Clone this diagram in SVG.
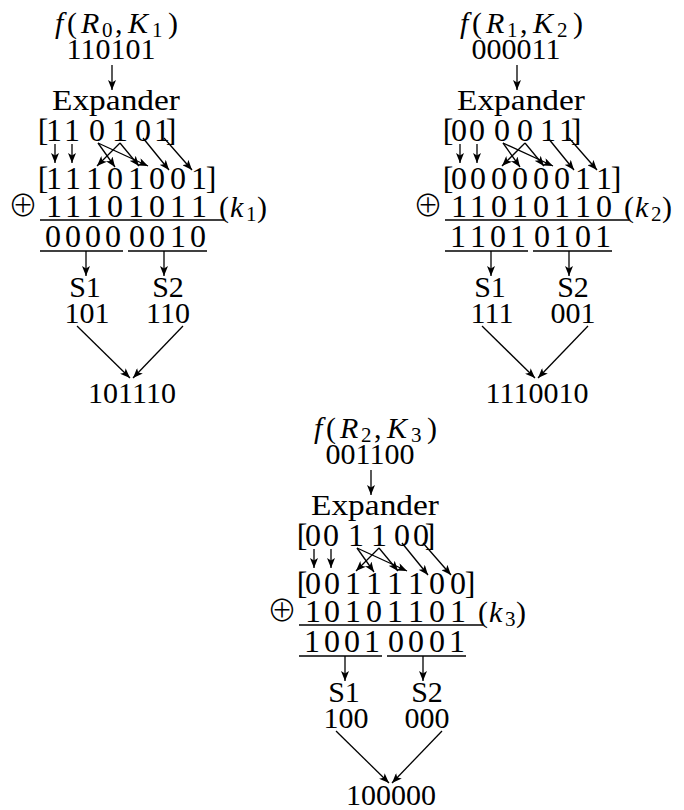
<svg xmlns="http://www.w3.org/2000/svg" width="684" height="810" viewBox="0 0 684 810">
<style>
.t{font-family:"Liberation Serif","Times New Roman",serif;font-size:30px;fill:#000}
.r{font-size:32px}
.m{text-anchor:middle}
.i{font-style:italic}
.s{font-size:21px}
.op{font-family:"Noto Sans CJK JP","DejaVu Sans",sans-serif;font-weight:300;font-size:30px;fill:#000;text-anchor:middle}
.c{stroke:#000;stroke-width:1.3;fill:none}
.a{marker-end:url(#ah)}
</style>
<defs>
<marker id="ah" viewBox="0 0 10 8" refX="10" refY="4" markerWidth="10" markerHeight="8" orient="auto" markerUnits="userSpaceOnUse">
<path d="M0,0 L10,4 L0,8 L2.5,4 z" fill="#000"/>
</marker>
</defs>

<!-- Block 1 -->
<g id="block1">
<g id="b1-f"><text class="t" y="33" font-size="31"><tspan x="55" class="i">f</tspan><tspan x="67">(</tspan><tspan x="81" class="i">R</tspan><tspan x="102" y="37" class="s">0</tspan><tspan x="115" y="33">,</tspan><tspan x="128" class="i">K</tspan><tspan x="152" y="37" class="s">1</tspan><tspan x="168" y="33">)</tspan></text></g>
<g id="b1-in"><text class="t m" x="111" y="59">110101</text></g>
<g id="b1-exp"><text class="t" x="52" y="110" textLength="128" lengthAdjust="spacingAndGlyphs">Expander</text></g>
<g id="b1-row1"><text class="t r m" x="43 54 72 97 120 143 162 171" y="141">[110101]</text></g>
<g id="b1-row2"><text class="t r m" x="43 54 73 94 115 136 157 178 199 211" y="189">[11101001]</text></g>
<g id="b1-xor"><text class="op" x="23" y="216">⊕</text></g>
<g id="b1-key"><text class="t r m" x="54 73 94 115 136 157 178 199" y="217">11101011</text></g>
<g id="b1-k"><text class="t" y="217"><tspan x="219">(</tspan><tspan x="230" class="i">k</tspan><tspan x="246" y="221" class="s">1</tspan><tspan x="257" y="217">)</tspan></text></g>
<g id="b1-res"><text class="t r m" x="53 73 93 113 137 157 178 198" y="247">00000010</text></g>
<g id="b1-s1"><text class="t m" x="85" y="297">S1</text></g>
<g id="b1-s2"><text class="t m" x="168" y="297">S2</text></g>
<g id="b1-o1"><text class="t m" x="87" y="323">101</text></g>
<g id="b1-o2"><text class="t m" x="168" y="323">110</text></g>
<g id="b1-out"><text class="t m" x="132" y="403">101110</text></g>
<g id="b1-connectors">
<line class="c a" x1="112" y1="65" x2="112" y2="90"/>
<line class="c a" x1="55" y1="144" x2="55" y2="163"/>
<line class="c a" x1="72" y1="144" x2="72" y2="163"/>
<line class="c a" x1="98" y1="143" x2="115" y2="167"/>
<line class="c a" x1="98" y1="143" x2="148" y2="166"/>
<line class="c a" x1="120" y1="143" x2="97" y2="166"/>
<line class="c a" x1="120" y1="143" x2="139" y2="166"/>
<line class="c a" x1="143" y1="138" x2="169" y2="170"/>
<line class="c a" x1="164" y1="138" x2="192" y2="170"/>
<line class="c" x1="40" y1="220" x2="224" y2="220"/>
<line class="c" x1="40" y1="251" x2="123" y2="251"/>
<line class="c" x1="128" y1="251" x2="207" y2="251"/>
<line class="c a" x1="86" y1="251" x2="86" y2="276"/>
<line class="c a" x1="164" y1="251" x2="164" y2="276"/>
<line class="c a" x1="77" y1="326" x2="130" y2="378"/>
<line class="c a" x1="183" y1="326" x2="133" y2="378"/>
</g>
</g>

<!-- Block 2 -->
<g id="block2" transform="translate(405,0)">
<g id="b2-f"><text class="t" y="33" font-size="31"><tspan x="55" class="i">f</tspan><tspan x="67">(</tspan><tspan x="81" class="i">R</tspan><tspan x="102" y="37" class="s">1</tspan><tspan x="115" y="33">,</tspan><tspan x="128" class="i">K</tspan><tspan x="152" y="37" class="s">2</tspan><tspan x="168" y="33">)</tspan></text></g>
<g id="b2-in"><text class="t m" x="111" y="59">000011</text></g>
<g id="b2-exp"><text class="t" x="52" y="110" textLength="128" lengthAdjust="spacingAndGlyphs">Expander</text></g>
<g id="b2-row1"><text class="t r m" x="43 54 72 97 120 143 162 171" y="141">[000011]</text></g>
<g id="b2-row2"><text class="t r m" x="43 54 73 94 115 136 157 178 199 211" y="189">[00000011]</text></g>
<g id="b2-xor"><text class="op" x="23" y="216">⊕</text></g>
<g id="b2-key"><text class="t r m" x="54 73 94 115 136 157 178 199" y="217">11010110</text></g>
<g id="b2-k"><text class="t" y="217"><tspan x="219">(</tspan><tspan x="230" class="i">k</tspan><tspan x="246" y="221" class="s">2</tspan><tspan x="257" y="217">)</tspan></text></g>
<g id="b2-res"><text class="t r m" x="53 73 93 113 137 157 178 198" y="247">11010101</text></g>
<g id="b2-s1"><text class="t m" x="85" y="297">S1</text></g>
<g id="b2-s2"><text class="t m" x="168" y="297">S2</text></g>
<g id="b2-o1"><text class="t m" x="87" y="323">111</text></g>
<g id="b2-o2"><text class="t m" x="168" y="323">001</text></g>
<g id="b2-out"><text class="t m" x="132" y="403">1110010</text></g>
<g id="b2-connectors">
<line class="c a" x1="112" y1="65" x2="112" y2="90"/>
<line class="c a" x1="55" y1="144" x2="55" y2="163"/>
<line class="c a" x1="72" y1="144" x2="72" y2="163"/>
<line class="c a" x1="98" y1="143" x2="115" y2="167"/>
<line class="c a" x1="98" y1="143" x2="148" y2="166"/>
<line class="c a" x1="120" y1="143" x2="97" y2="166"/>
<line class="c a" x1="120" y1="143" x2="139" y2="166"/>
<line class="c a" x1="143" y1="138" x2="169" y2="170"/>
<line class="c a" x1="164" y1="138" x2="192" y2="170"/>
<line class="c" x1="40" y1="220" x2="224" y2="220"/>
<line class="c" x1="40" y1="251" x2="123" y2="251"/>
<line class="c" x1="128" y1="251" x2="207" y2="251"/>
<line class="c a" x1="86" y1="251" x2="86" y2="276"/>
<line class="c a" x1="164" y1="251" x2="164" y2="276"/>
<line class="c a" x1="77" y1="326" x2="130" y2="378"/>
<line class="c a" x1="183" y1="326" x2="133" y2="378"/>
</g>
</g>

<!-- Block 3 -->
<g id="block3" transform="translate(259,405)">
<g id="b3-f"><text class="t" y="33" font-size="31"><tspan x="55" class="i">f</tspan><tspan x="67">(</tspan><tspan x="81" class="i">R</tspan><tspan x="102" y="37" class="s">2</tspan><tspan x="115" y="33">,</tspan><tspan x="128" class="i">K</tspan><tspan x="152" y="37" class="s">3</tspan><tspan x="168" y="33">)</tspan></text></g>
<g id="b3-in"><text class="t m" x="111" y="59">001100</text></g>
<g id="b3-exp"><text class="t" x="52" y="110" textLength="128" lengthAdjust="spacingAndGlyphs">Expander</text></g>
<g id="b3-row1"><text class="t r m" x="43 54 72 97 120 143 162 171" y="141">[001100]</text></g>
<g id="b3-row2"><text class="t r m" x="43 54 73 94 115 136 157 178 199 211" y="189">[00111100]</text></g>
<g id="b3-xor"><text class="op" x="23" y="216">⊕</text></g>
<g id="b3-key"><text class="t r m" x="54 73 94 115 136 157 178 199" y="217">10101101</text></g>
<g id="b3-k"><text class="t" y="217"><tspan x="219">(</tspan><tspan x="230" class="i">k</tspan><tspan x="246" y="221" class="s">3</tspan><tspan x="257" y="217">)</tspan></text></g>
<g id="b3-res"><text class="t r m" x="53 73 93 113 137 157 178 198" y="247">10010001</text></g>
<g id="b3-s1"><text class="t m" x="85" y="297">S1</text></g>
<g id="b3-s2"><text class="t m" x="168" y="297">S2</text></g>
<g id="b3-o1"><text class="t m" x="87" y="323">100</text></g>
<g id="b3-o2"><text class="t m" x="168" y="323">000</text></g>
<g id="b3-out"><text class="t m" x="132" y="400">100000</text></g>
<g id="b3-connectors">
<line class="c a" x1="112" y1="65" x2="112" y2="90"/>
<line class="c a" x1="55" y1="144" x2="55" y2="163"/>
<line class="c a" x1="72" y1="144" x2="72" y2="163"/>
<line class="c a" x1="98" y1="143" x2="115" y2="167"/>
<line class="c a" x1="98" y1="143" x2="148" y2="166"/>
<line class="c a" x1="120" y1="143" x2="97" y2="166"/>
<line class="c a" x1="120" y1="143" x2="139" y2="166"/>
<line class="c a" x1="143" y1="138" x2="169" y2="170"/>
<line class="c a" x1="164" y1="138" x2="192" y2="170"/>
<line class="c" x1="40" y1="220" x2="224" y2="220"/>
<line class="c" x1="40" y1="251" x2="123" y2="251"/>
<line class="c" x1="128" y1="251" x2="207" y2="251"/>
<line class="c a" x1="86" y1="251" x2="86" y2="276"/>
<line class="c a" x1="164" y1="251" x2="164" y2="276"/>
<line class="c a" x1="77" y1="326" x2="130" y2="378"/>
<line class="c a" x1="183" y1="326" x2="133" y2="378"/>
</g>
</g>
</svg>
